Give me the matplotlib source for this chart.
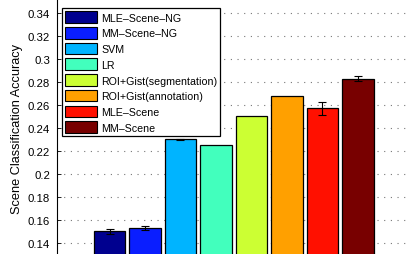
import matplotlib
matplotlib.use("Agg")
import matplotlib.pyplot as plt
from matplotlib.patches import Patch

methods = ["MLE–Scene–NG", "MM–Scene–NG", "SVM", "LR",
           "ROI+Gist(segmentation)", "ROI+Gist(annotation)", "MLE–Scene", "MM–Scene"]
accuracy = [0.150, 0.153, 0.230, 0.225, 0.250, 0.268, 0.257, 0.283]
errors = [0.002, 0.0017, 0.0003, 0.0, 0.0, 0.0, 0.0057, 0.0018]
colors = ["#00008f", "#0a1eff", "#00b4ff", "#42ffbd",
          "#ccff33", "#ffa000", "#ff1000", "#780000"]
yticks = [0.14, 0.16, 0.18, 0.2, 0.22, 0.24, 0.26, 0.28, 0.3, 0.32, 0.34]
ytick_labels = ["0.14", "0.16", "0.18", "0.2", "0.22", "0.24", "0.26", "0.28", "0.3", "0.32", "0.34"]

plt.rcParams['font.family'] = ['Liberation Sans', 'DejaVu Sans']

W, H = 409, 255
fig = plt.figure(figsize=(W / 100, H / 100), dpi=100)
ax = fig.add_axes([57 / W, 0, 1 - 57 / W, 1])

xs = list(range(1, len(accuracy) + 1))
ax.bar(xs, accuracy, width=0.9, color=colors, edgecolor="black", linewidth=0.9, zorder=2)
for x, a, e in zip(xs, accuracy, errors):
    if e > 0:
        ax.errorbar(x, a, yerr=e, fmt="none", ecolor="black", elinewidth=0.8,
                    capsize=3, capthick=0.8, zorder=3)

ax.set_xlim(-0.479, 9.437)
ax.set_ylim(0.1304, 0.3522)
ax.set_yticks(yticks)
ax.set_yticklabels(ytick_labels, fontsize=8.2)
ax.set_xticks([])
ax.tick_params(axis="y", direction="in", length=3, width=0.6, pad=5)
ax.grid(axis="y", linestyle=(0, (1, 5)), color="#777777", linewidth=0.8, zorder=0)
ax.set_axisbelow(True)
for s in ["top", "right", "bottom"]:
    ax.spines[s].set_visible(False)
ax.spines["left"].set_linewidth(0.8)

fig.text(17 / W, 1 - 129 / H, "Scene Classification Accuracy", rotation=90,
         ha="center", va="center", fontsize=9.2)

handles = [Patch(facecolor=c, edgecolor="black", linewidth=0.8) for c in colors]
leg = ax.legend(handles, methods, loc="upper left",
                bbox_to_anchor=((62 - 57) / (W - 57), 1 - 9 / H),
                fontsize=7.7, frameon=True, fancybox=False, framealpha=1,
                edgecolor="black", handlelength=3.0, handleheight=1.3,
                handletextpad=0.35, labelspacing=0.38, borderpad=0.3,
                borderaxespad=0)
leg.get_frame().set_linewidth(0.9)
leg.set_zorder(5)

fig.savefig("out.png", dpi=100)
